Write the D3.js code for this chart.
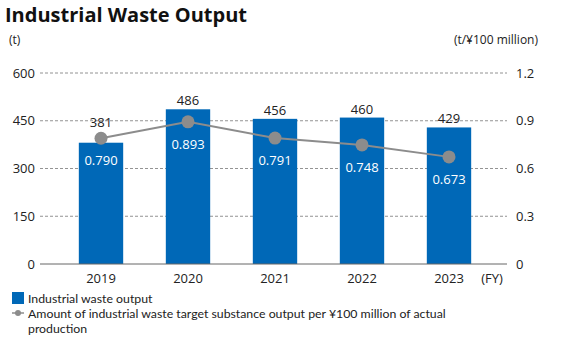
<!DOCTYPE html>
<html>
<head>
<meta charset="utf-8">
<script src="https://cdn.jsdelivr.net/npm/d3@7"></script>
<style>
  body { margin: 0; background: #fff; }
  svg text { font-family: "Open Sans", "Noto Sans", sans-serif; fill: #222; }
  svg .legend text { font-family: Lato, "Open Sans", sans-serif; }
</style>
</head>
<body>
<div id="chart"></div>
<script>
// waste output (t) and intensity (t per ¥100 million)
const years = ["2019", "2020", "2021", "2022", "2023"];
const waste = [381, 486, 456, 460, 429];
const intensity = [0.790, 0.893, 0.791, 0.748, 0.673];
const leftTicks = [0, 150, 300, 450, 600];
const rightTicks = [0, 0.3, 0.6, 0.9, 1.2];

const W = 565, H = 340;
const blue = "#0068b7", grey = "#8c8c8c";

const svg = d3.select("#chart").append("svg")
  .attr("width", W).attr("height", H);

const x = d3.scaleBand().domain(years).range([57.5, 492.5]).paddingInner(0.49).paddingOuter(0.245);
const yL = d3.scaleLinear().domain([0, 600]).range([264, 73]);
const yR = d3.scaleLinear().domain([0, 1.2]).range([264, 73]);
const cx = d => x(d) + x.bandwidth() / 2;

// title + units
svg.append("text").attr("x", 5).attr("y", 22)
  .attr("font-size", 20).attr("font-weight", 700).style("fill", "#111")
  .text("Industrial Waste Output");
svg.append("text").attr("x", 9).attr("y", 44).attr("font-size", 12).text("(t)");
svg.append("text").attr("x", 538).attr("y", 44).attr("text-anchor", "end")
  .attr("font-size", 12).text("(t/¥100 million)");

// grid
svg.append("g").selectAll("line").data(leftTicks.filter(d => d > 0)).join("line")
  .attr("x1", 40).attr("x2", 507)
  .attr("y1", d => yL(d)).attr("y2", d => yL(d))
  .attr("stroke", "#777").attr("stroke-width", 0.8).attr("stroke-dasharray", "3,2");

// left / right tick labels
svg.append("g").selectAll("text").data(leftTicks).join("text")
  .attr("x", 35).attr("y", d => yL(d) + 4.5).attr("text-anchor", "end")
  .attr("font-size", 13).text(d => d);
svg.append("g").selectAll("text").data(rightTicks).join("text")
  .attr("x", 516).attr("y", d => yR(d) + 4.5)
  .attr("font-size", 13).text(d => d === 0 ? "0" : d.toFixed(1));

// bars
svg.append("g").selectAll("rect").data(years).join("rect")
  .attr("x", d => x(d)).attr("width", x.bandwidth())
  .attr("y", (d, i) => yL(waste[i]))
  .attr("height", (d, i) => yL(0) - yL(waste[i]))
  .attr("fill", blue);

// baseline
svg.append("line").attr("x1", 40).attr("x2", 507)
  .attr("y1", yL(0)).attr("y2", yL(0))
  .attr("stroke", "#666").attr("stroke-width", 1);

// year labels
svg.append("g").selectAll("text").data(years).join("text")
  .attr("x", d => cx(d)).attr("y", 283).attr("text-anchor", "middle")
  .attr("font-size", 13).text(d => d);
svg.append("text").attr("x", 492).attr("y", 283).attr("text-anchor", "middle")
  .attr("font-size", 13).text("(FY)");

// intensity line
const line = d3.line().x((d, i) => cx(years[i])).y(d => yR(d));
svg.append("path").datum(intensity).attr("d", line)
  .attr("fill", "none").attr("stroke", grey).attr("stroke-width", 2);
svg.append("g").selectAll("circle").data(intensity).join("circle")
  .attr("cx", (d, i) => cx(years[i])).attr("cy", d => yR(d))
  .attr("r", 6.5).attr("fill", grey);

// bar value labels, lifted over the dot where needed
svg.append("g").selectAll("text").data(waste).join("text")
  .attr("x", (d, i) => cx(years[i]))
  .attr("y", (d, i) => Math.min(yL(d) - 4, yR(intensity[i]) - 11))
  .attr("text-anchor", "middle").attr("font-size", 13).text(d => d);

// intensity labels inside the bars
svg.append("g").selectAll("text").data(intensity).join("text")
  .attr("x", (d, i) => cx(years[i])).attr("y", d => yR(d) + 27)
  .attr("text-anchor", "middle").attr("font-size", 13)
  .style("fill", "#fff").text(d => d.toFixed(3));

// legend
const lg = svg.append("g").attr("class", "legend");
lg.append("rect").attr("x", 12).attr("y", 292).attr("width", 12).attr("height", 12).attr("fill", blue);
lg.append("text").attr("x", 28).attr("y", 302.5).attr("font-size", 12.3).text("Industrial waste output");
lg.append("line").attr("x1", 12).attr("x2", 24).attr("y1", 313).attr("y2", 313)
  .attr("stroke", grey).attr("stroke-width", 1.5);
lg.append("circle").attr("cx", 18).attr("cy", 313).attr("r", 3).attr("fill", grey);
lg.append("text").attr("x", 28).attr("y", 317.5).attr("font-size", 12.3)
  .text("Amount of industrial waste target substance output per ¥100 million of actual");
lg.append("text").attr("x", 28).attr("y", 332.5).attr("font-size", 12.3).text("production");
</script>
</body>
</html>
